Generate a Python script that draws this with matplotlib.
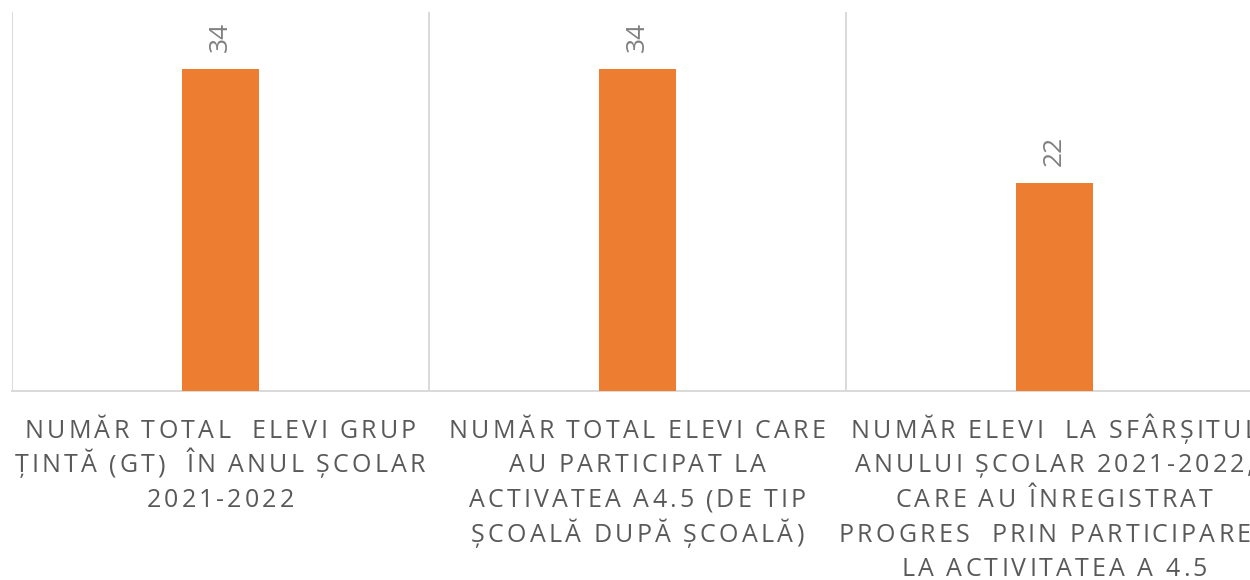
import matplotlib
matplotlib.use("Agg")
import matplotlib.pyplot as plt
from matplotlib.font_manager import FontProperties, findfont
from matplotlib.ft2font import LOAD_NO_HINTING
from matplotlib import font_manager

# ---- data ----
categories = [
    ["NUMĂR TOTAL  ELEVI GRUP", "ȚINTĂ (GT)  ÎN ANUL ȘCOLAR", "2021-2022"],
    ["NUMĂR TOTAL ELEVI CARE", "AU PARTICIPAT LA", "ACTIVATEA A4.5 (DE TIP", "ȘCOALĂ DUPĂ ȘCOALĂ)"],
    ["NUMĂR ELEVI  LA SFÂRȘITUL", "ANULUI ȘCOLAR 2021-2022,", "CARE AU ÎNREGISTRAT",
     "PROGRES  PRIN PARTICIPAREA", "LA ACTIVITATEA A 4.5"],
]
values = [34, 34, 22]

W, H, DPI = 1250, 580, 100
BAR_COLOR = "#ED7D31"
GRID_COLOR = "#D9D9D9"
LABEL_COLOR = "#595959"
VALUE_COLOR = "#808080"
FAMILY = "Open Sans"

fig = plt.figure(figsize=(W / DPI, H / DPI), dpi=DPI)
ax = fig.add_axes([12 / W, 1 - 391 / H, 1251 / W, 379 / H])

x = list(range(len(values)))
bars = ax.bar(x, values, width=0.185, color=BAR_COLOR, zorder=3)
ax.set_xlim(-0.5, len(values) - 0.5)
ax.set_ylim(0, 40)

# vertical category separators
ax.set_xticks([i - 0.5 for i in range(len(values) + 1)], minor=True)
ax.set_xticks([])
ax.set_yticks([])
ax.grid(True, which="minor", axis="x", color=GRID_COLOR, lw=1.4, zorder=0)
ax.tick_params(which="both", length=0)
for s in ["top", "right", "left"]:
    ax.spines[s].set_visible(False)
ax.spines["bottom"].set_color(GRID_COLOR)
ax.spines["bottom"].set_linewidth(1.4)

# value labels (rotated)
for xi, v in zip(x, values):
    ax.annotate(str(v), (xi, v), xytext=(0, 17 * 72 / DPI), textcoords="offset points",
                rotation=90, ha="center", va="bottom", fontsize=19,
                color=VALUE_COLOR, family=FAMILY)

# letter-spaced category labels
FS = 18
SPACING = 2.4  # px
prop = FontProperties(family=FAMILY, size=FS)
font = font_manager.get_font(findfont(prop))
font.set_size(FS, DPI)


def adv(c):
    g = font.load_char(ord(c), flags=LOAD_NO_HINTING)
    return g.linearHoriAdvance / 65536


fig.canvas.draw()
base0 = 438
line_h = 34.5
for xi, lines in zip(x, categories):
    cx = ax.transData.transform((xi, 0))[0]
    for li, line in enumerate(lines):
        advs = [adv(c) for c in line]
        total = sum(advs) + SPACING * (len(line) - 1)
        px = cx - total / 2
        py = base0 + li * line_h
        for c, a in zip(line, advs):
            if c != " ":
                fig.text(px / W, 1 - py / H, c, ha="left", va="baseline",
                         fontsize=FS, color=LABEL_COLOR, family=FAMILY)
            px += a + SPACING

fig.savefig("out.png", dpi=DPI)
